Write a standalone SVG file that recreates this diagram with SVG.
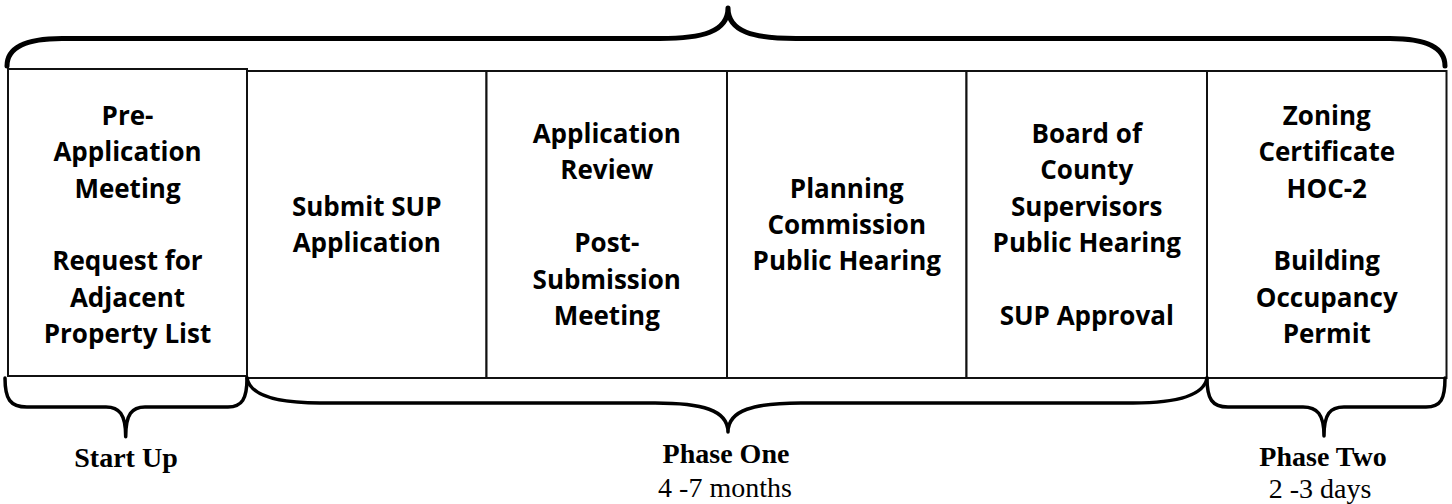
<svg xmlns="http://www.w3.org/2000/svg" width="1452" height="504" viewBox="0 0 1452 504">
<style>
.box{fill:#fff;stroke:#111;stroke-width:2}
.lbl{font-family:"Open Sans","Noto Sans","DejaVu Sans",sans-serif;font-weight:700;font-size:26px;fill:#000;text-anchor:middle}
.brace{fill:none;stroke:#000;stroke-linecap:round;stroke-linejoin:round}
.ph{font-family:"Liberation Serif","Times New Roman",serif;fill:#000;text-anchor:middle;font-size:28px}
.phb{font-weight:700}
</style>
<rect width="1452" height="504" fill="#fff"/>
<g id="nodes">
<g id="startup-box">
<rect class="box" x="8" y="69" width="239" height="307"/>
<text class="lbl" x="127.5"><tspan x="127.5" y="124.8">Pre-</tspan><tspan x="127.5" y="161.2">Application</tspan><tspan x="127.5" y="197.6">Meeting</tspan><tspan x="127.5" y="270.4">Request for</tspan><tspan x="127.5" y="306.8">Adjacent</tspan><tspan x="127.5" y="343.2">Property List</tspan></text>
</g>
<g id="submit-box">
<rect class="box" x="247" y="71" width="239.5" height="307"/>
<text class="lbl"><tspan x="366.75" y="215.8">Submit SUP</tspan><tspan x="366.75" y="252.2">Application</tspan></text>
</g>
<g id="review-box">
<rect class="box" x="486.5" y="71" width="240.5" height="307"/>
<text class="lbl"><tspan x="606.75" y="143">Application</tspan><tspan x="606.75" y="179.4">Review</tspan><tspan x="606.75" y="252.2">Post-</tspan><tspan x="606.75" y="288.6">Submission</tspan><tspan x="606.75" y="325">Meeting</tspan></text>
</g>
<g id="planning-box">
<rect class="box" x="727" y="71" width="239.5" height="307"/>
<text class="lbl"><tspan x="846.75" y="197.6">Planning</tspan><tspan x="846.75" y="234">Commission</tspan><tspan x="846.75" y="270.4">Public Hearing</tspan></text>
</g>
<g id="board-box">
<rect class="box" x="966.5" y="71" width="240.5" height="307"/>
<text class="lbl"><tspan x="1086.75" y="143">Board of</tspan><tspan x="1086.75" y="179.4">County</tspan><tspan x="1086.75" y="215.8">Supervisors</tspan><tspan x="1086.75" y="252.2">Public Hearing</tspan><tspan x="1086.75" y="325">SUP Approval</tspan></text>
</g>
<g id="zoning-box">
<rect class="box" x="1207" y="71" width="239.5" height="307"/>
<text class="lbl"><tspan x="1326.75" y="124.8">Zoning</tspan><tspan x="1326.75" y="161.2">Certificate</tspan><tspan x="1326.75" y="197.6">HOC-2</tspan><tspan x="1326.75" y="270.4">Building</tspan><tspan x="1326.75" y="306.8">Occupancy</tspan><tspan x="1326.75" y="343.2">Permit</tspan></text>
</g>
</g>
<g id="connectors">
<path class="brace" stroke-width="5" d="M7 66 C7 48 24 38.5 62 38.5 L660 38.5 C702 38.5 728 32 728 8 C728 32 754 38.5 796 38.5 L1390 38.5 C1428 38.5 1445 48 1445 66"/>
<path class="brace" stroke-width="3.5" d="M5 378 C5 399 10 407 27 407 L106 407 C119 407 125.7 414 125.7 436.7 C125.7 414 132 407 145 407 L228 407 C242 407 247 399 247 378"/>
<path class="brace" stroke-width="3.5" d="M247 378 C250 395 275 403 320 403 L655 403 C702 403 728 410 728 432 C728 410 754 403 801 403 L1133 403 C1178 403 1204 395 1207 378"/>
<path class="brace" stroke-width="3.5" d="M1207 378 C1207 399 1212 407 1228 407 L1303 407 C1317 407 1324 414 1324 436 C1324 414 1330 407 1344 407 L1426 407 C1441 407 1445 399 1445 378"/>
</g>
<g id="phase-labels">
<text class="ph phb" x="126" y="467">Start Up</text>
<text class="ph phb" x="726" y="463">Phase One</text>
<text class="ph" x="725" y="497" font-size="30">4 -7 months</text>
<text class="ph phb" x="1323" y="466">Phase Two</text>
<text class="ph" x="1320" y="498" font-size="30">2 -3 days</text>
</g>
</svg>
